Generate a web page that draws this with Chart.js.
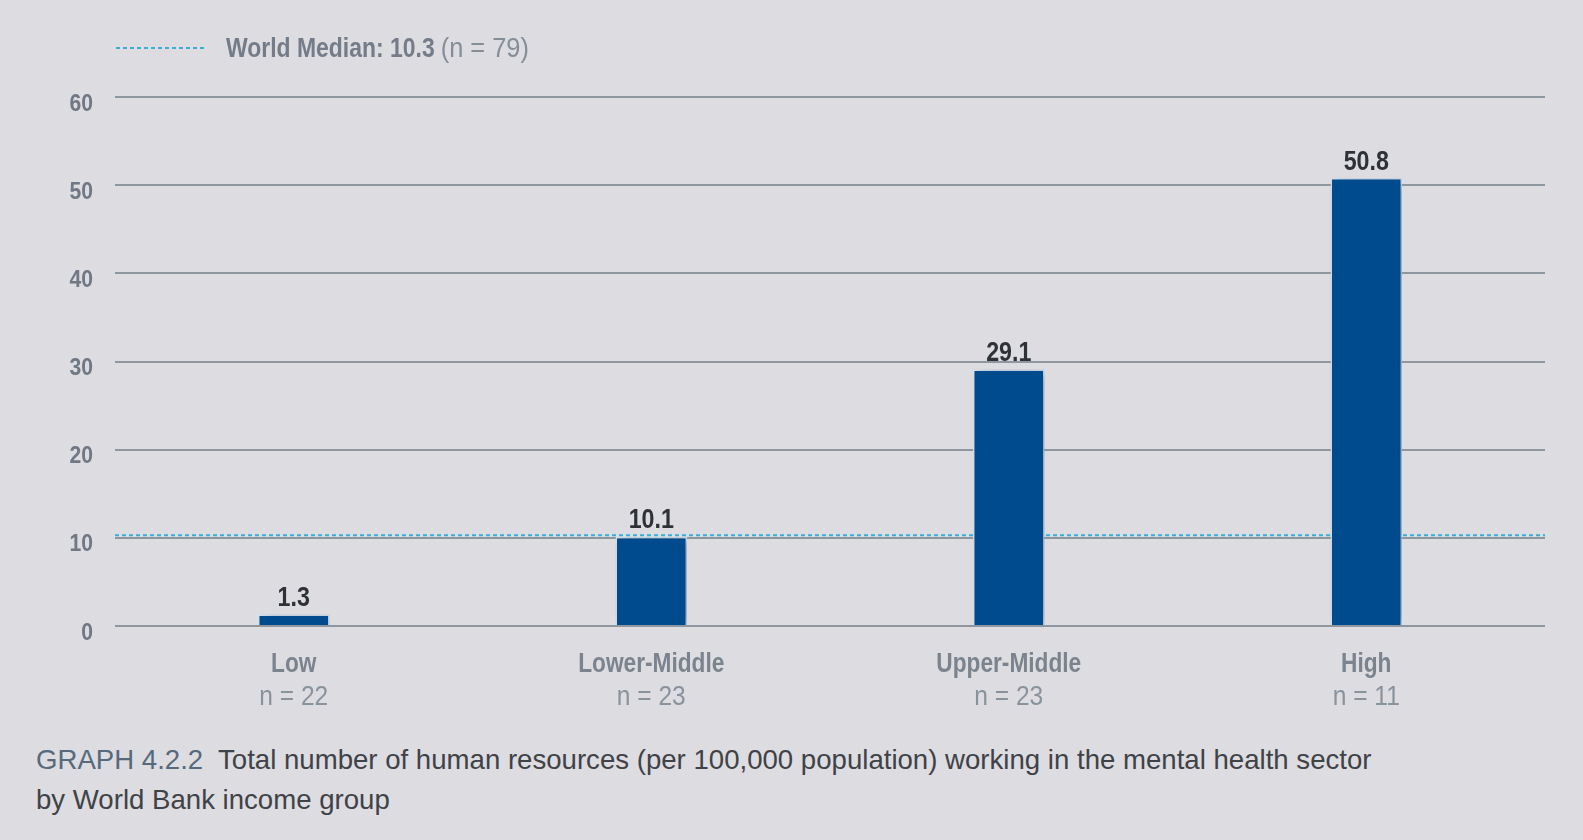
<!DOCTYPE html>
<html>
<head>
<meta charset="utf-8">
<script src="https://cdn.jsdelivr.net/npm/chart.js@4.4.1/dist/chart.umd.min.js"></script>
<style>
    body {
        margin: 0;
        background: #dcdce1;
        width: 1583px;
        height: 840px;
        overflow: hidden;
        position: relative;
    }
    .chart-box {
        position: absolute;
        left: 0;
        top: 0;
        width: 1583px;
        height: 720px;
    }
    .caption {
        position: absolute;
        left: 36px;
        top: 740px;
        font-family: "Liberation Sans", Arial, sans-serif;
        font-size: 27.6px;
        line-height: 40px;
        color: #3f4247;
    }
    .caption b {
        font-weight: normal;
        color: #56697d;
    }
</style>
</head>
<body>
<div class="chart-box"><canvas id="chart"></canvas></div>
<div class="caption"><b>GRAPH 4.2.2</b>&nbsp; Total number of human resources (per 100,000 population) working in the mental health sector<br>by World Bank income group</div>
<script>
const categories = ['Low', 'Lower-Middle', 'Upper-Middle', 'High'];
const groupCounts = ['n = 22', 'n = 23', 'n = 23', 'n = 11'];
const values = [1.3, 10.1, 29.1, 50.8];
const worldMedian = 10.3;
const worldCount = 'n = 79';
const yTicks = [0, 10, 20, 30, 40, 50, 60];

const sans = '"Liberation Sans", Arial, sans-serif';
const ctx = document.getElementById('chart');

// draw text squeezed horizontally, to look like a condensed face
function narrowText(c, text, x, y, sx) {
    c.save();
    c.translate(x, y);
    c.scale(sx, 1);
    c.fillText(text, 0, 0);
    const w = c.measureText(text).width * sx;
    c.restore();
    return w;
}

// shadow behind the bars
const barShadow = {
    id: 'barShadow',
    beforeDatasetDraw(chart) {
        const c = chart.ctx;
        c.save();
        c.shadowColor = 'rgba(20, 30, 50, 0.35)';
        c.shadowBlur = 12;
        c.shadowOffsetX = 5;
        c.shadowOffsetY = 2;
    },
    afterDatasetDraw(chart) {
        chart.ctx.restore();
    }
};

// median line, value labels, axis labels and the legend
const extras = {
    id: 'extras',
    beforeDatasetsDraw(chart) {
        const c = chart.ctx;
        const area = chart.chartArea;
        const y = chart.scales.y.getPixelForValue(worldMedian);
        c.save();
        c.strokeStyle = '#3aaed8';
        c.lineWidth = 2;
        c.setLineDash([4, 3]);
        c.beginPath();
        c.moveTo(area.left, y);
        c.lineTo(area.right, y);
        c.stroke();
        c.restore();
    },
    afterDatasetsDraw(chart) {
        const c = chart.ctx;
        const meta = chart.getDatasetMeta(0);
        const xScale = chart.scales.x;
        const yScale = chart.scales.y;
        const area = chart.chartArea;
        c.save();
        c.textBaseline = 'middle';

        // y tick labels (sit a little below their grid lines)
        c.textAlign = 'right';
        c.font = 'bold 24px ' + sans;
        c.fillStyle = '#6f7884';
        yTicks.forEach(v => {
            narrowText(c, String(v), 93, yScale.getPixelForValue(v) + 7, 0.88);
        });

        // value above each bar
        c.textAlign = 'center';
        c.font = 'bold 27px ' + sans;
        c.fillStyle = '#2e3236';
        meta.data.forEach((bar, i) => {
            narrowText(c, values[i].toFixed(1), bar.x, bar.y - 16, 0.86);
        });

        // two-line category labels
        categories.forEach((cat, i) => {
            const x = xScale.getPixelForValue(i);
            c.font = 'bold 27px ' + sans;
            c.fillStyle = '#7a838e';
            narrowText(c, cat, x, area.bottom + 39, 0.84);
            c.font = '27px ' + sans;
            c.fillStyle = '#8a929c';
            narrowText(c, groupCounts[i], x, area.bottom + 72, 0.91);
        });

        // legend
        c.strokeStyle = '#3aaed8';
        c.lineWidth = 2;
        c.setLineDash([4, 3]);
        c.beginPath();
        c.moveTo(116, 48);
        c.lineTo(207, 48);
        c.stroke();
        c.setLineDash([]);
        c.textAlign = 'left';
        c.font = 'bold 27px ' + sans;
        c.fillStyle = '#737c88';
        const w = narrowText(c, 'World Median: ' + worldMedian, 226, 50, 0.85);
        c.font = '27px ' + sans;
        c.fillStyle = '#858d97';
        narrowText(c, '(' + worldCount + ')', 226 + w + 6, 50, 0.94);
        c.restore();
    }
};

new Chart(ctx, {
    type: 'bar',
    data: {
        labels: categories,
        datasets: [{
            label: 'Human resources per 100,000',
            data: values,
            backgroundColor: '#004a8e',
            borderColor: '#d6e6f4',
            borderWidth: 1.5,
            barPercentage: 0.2,
            categoryPercentage: 1
        }]
    },
    options: {
        responsive: true,
        maintainAspectRatio: false,
        animation: false,
        layout: {
            padding: { top: 97, right: 38, bottom: 94, left: 0 }
        },
        scales: {
            x: {
                display: false
            },
            y: {
                min: yTicks[0],
                max: yTicks[yTicks.length - 1],
                afterFit(scale) {
                    scale.width = 115;
                },
                afterBuildTicks(scale) {
                    scale.ticks = yTicks.map(v => ({ value: v }));
                },
                ticks: { display: false },
                grid: {
                    color: '#8e979f',
                    lineWidth: 2,
                    drawTicks: false
                },
                border: { display: false }
            }
        },
        plugins: {
            legend: { display: false },
            tooltip: { enabled: false }
        }
    },
    plugins: [barShadow, extras]
});
</script>
</body>
</html>
